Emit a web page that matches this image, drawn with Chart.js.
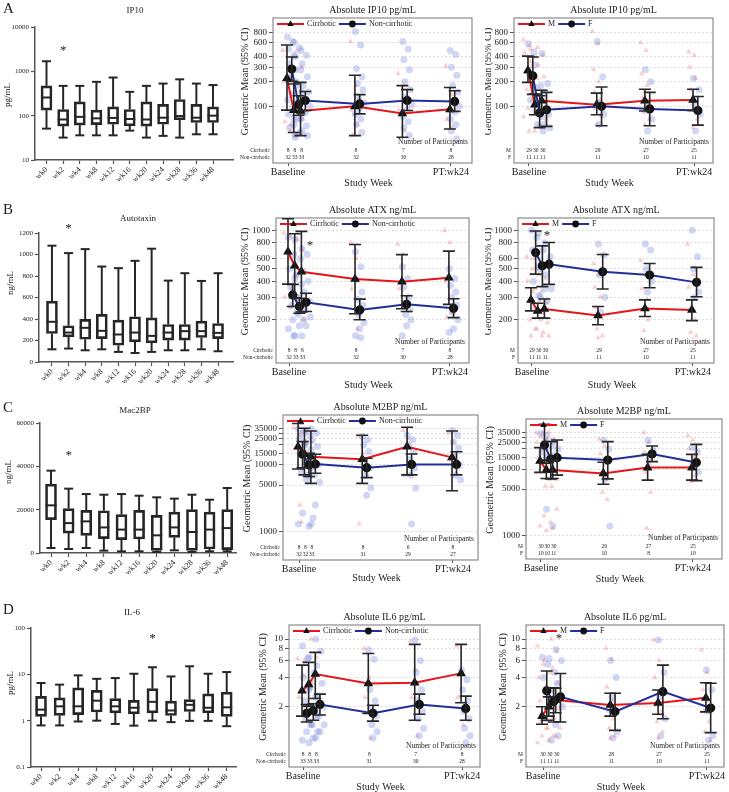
<!DOCTYPE html>
<html>
<head>
<meta charset="utf-8">
<title>Biomarkers by study week</title>
<script src="https://cdn.jsdelivr.net/npm/chart.js@4.4.1/dist/chart.umd.min.js"></script>
<style>
  html, body { margin: 0; padding: 0; background: #fff; }
  body { position: relative; width: 729px; height: 792px; overflow: hidden; }
  canvas { position: absolute; }
</style>
</head>
<body>
<canvas id="boxA"></canvas><canvas id="midA"></canvas><canvas id="rightA"></canvas>
<canvas id="boxB"></canvas><canvas id="midB"></canvas><canvas id="rightB"></canvas>
<canvas id="boxC"></canvas><canvas id="midC"></canvas><canvas id="rightC"></canvas>
<canvas id="boxD"></canvas><canvas id="midD"></canvas><canvas id="rightD"></canvas>
<script>
// ---- box plot data (all participants, by week) ----
const boxWeeks = ["wk0", "wk2", "wk4", "wk8", "wk12", "wk16", "wk20", "wk24", "wk28", "wk36", "wk48"];

const ip10Min = [51, 32, 36, 36, 36, 46, 32, 35, 32, 38, 38];
const ip10Q1 = [133, 58, 61, 63, 64, 59, 58, 64, 81, 70, 70];
const ip10Med = [257, 82, 94, 87, 89, 84, 82, 90, 98, 90, 100];
const ip10Q3 = [470, 138, 204, 133, 158, 138, 204, 180, 232, 180, 158];
const ip10Max = [1690, 470, 470, 580, 725, 345, 470, 530, 660, 530, 490];

const atxMin = [118, 125, 109, 118, 94, 84, 94, 109, 109, 118, 100];
const atxQ1 = [265, 234, 212, 218, 156, 187, 178, 203, 203, 228, 218];
const atxMed = [374, 274, 318, 290, 256, 274, 243, 274, 287, 287, 271];
const atxQ3 = [567, 337, 396, 443, 390, 421, 411, 349, 349, 380, 358];
const atxMax = [1082, 1013, 1050, 888, 873, 941, 1054, 757, 826, 754, 826];

const m2bpMin = [2300, 1850, 2300, 1080, 770, 770, 460, 1230, 460, 770, 770];
const m2bpQ1 = [15400, 9200, 8150, 6600, 6150, 6460, 1230, 7230, 1230, 1850, 1540];
const m2bpMed = [22000, 13800, 14600, 11800, 10800, 10800, 8150, 11800, 9700, 10800, 11500];
const m2bpQ3 = [31800, 20500, 19700, 19500, 17700, 19700, 17400, 18900, 20000, 18900, 20000];
const m2bpMax = [38000, 29700, 27200, 26900, 27200, 26450, 25700, 25100, 26900, 24600, 30000];

const il6Min = [0.79, 0.79, 0.96, 1.0, 0.85, 0.78, 1.0, 0.93, 0.99, 0.99, 0.76];
const il6Q1 = [1.24, 1.3, 1.35, 1.54, 1.47, 1.4, 1.47, 1.29, 1.58, 1.47, 1.24];
const il6Med = [1.73, 2.04, 2.04, 2.7, 2.04, 1.9, 2.55, 1.66, 2.2, 1.9, 1.94];
const il6Q3 = [3.35, 3.1, 5.1, 4.5, 3.0, 2.75, 4.9, 2.65, 2.85, 3.8, 4.1];
const il6Max = [6.5, 6.0, 9.5, 8.0, 8.3, 10.3, 14.2, 9.0, 14.9, 10.3, 11.2];

// ---- geometric mean plots: visits ----
const visitWeeks = [0, 2, 4, 20, 34, 48];
const visitTickWeeks = [0, 48];
const visitTickLabels = ["Baseline", "PT:wk24"];

// IP10: cirrhotic / non-cirrhotic
const ip10CirMean = [220, 90, 88, 100, 82, 92];
const ip10CirLo = [90, 48, 44, 44, 42, 53];
const ip10CirHi = [560, 187, 196, 240, 179, 170];
const ip10NonMean = [285, 105, 118, 107, 118, 115];
const ip10NonLo = [202, 78, 89, 81, 89, 87];
const ip10NonHi = [400, 135, 152, 139, 160, 155];
const ip10CirN = [8, 8, 8, 8, 7, 8];
const ip10NonN = [32, 33, 33, 32, 30, 28];
const ip10CirDots = [[480, 300, 200, 150, 65, 50], [220, 90, 60, 45], [470, 300, 120, 70, 45], [620, 180, 90, 60, 45], [250, 180, 90, 50], [310, 140, 70, 55]];
const ip10NonDots = [
  [700, 620, 500, 420, 330, 280, 230, 180, 140, 120, 100, 80, 70, 55, 45],
  [600, 520, 400, 280, 200, 150, 110, 85, 70, 60, 48, 42],
  [480, 420, 330, 230, 180, 150, 120, 100, 85, 70, 58, 50, 44],
  [820, 560, 290, 230, 190, 160, 130, 110, 95, 80, 70, 60, 48],
  [620, 500, 370, 280, 200, 160, 130, 105, 90, 75, 65, 55, 44],
  [480, 430, 300, 240, 180, 150, 120, 100, 85, 70, 60, 50, 40],
];
// IP10: male / female
const ip10MMean = [275, 105, 117, 105, 117, 120];
const ip10MLo = [196, 79, 88, 79, 88, 89];
const ip10MHi = [410, 141, 157, 145, 162, 162];
const ip10FMean = [236, 83, 91, 100, 93, 89];
const ip10FLo = [140, 55, 57, 58, 58, 59];
const ip10FHi = [400, 135, 148, 172, 148, 132];
const ip10MN = [29, 30, 30, 29, 27, 25];
const ip10FN = [11, 11, 11, 11, 10, 11];
const ip10MDots = [
  [650, 550, 450, 350, 260, 200, 160, 120, 95, 75, 50],
  [500, 400, 300, 220, 150, 110, 80, 60, 50],
  [520, 420, 320, 230, 160, 120, 90, 70, 55],
  [820, 580, 280, 200, 150, 120, 95, 75, 60],
  [600, 480, 250, 180, 130, 105, 85, 70, 60],
  [460, 420, 300, 220, 160, 120, 90, 70, 55],
];
const ip10FDots = [[580, 460, 250, 170, 120, 90], [320, 180, 110, 75, 60, 50], [440, 190, 150, 80, 60, 55], [620, 230, 110, 80, 60], [280, 200, 90, 70, 50], [220, 160, 110, 80, 50]];

// Autotaxin
const atxCirMean = [679, 528, 475, 416, 397, 426];
const atxCirLo = [380, 297, 230, 223, 244, 264];
const atxCirHi = [1230, 940, 980, 775, 646, 687];
const atxNonMean = [313, 254, 274, 239, 264, 246];
const atxNonLo = [254, 225, 232, 200, 232, 208];
const atxNonHi = [378, 295, 322, 290, 308, 292];
const atxCirN = [8, 8, 8, 8, 7, 8];
const atxNonN = [32, 33, 33, 32, 30, 28];
const atxCirDots = [[950, 600, 300, 250], [900, 550, 350, 280], [850, 700, 450, 200], [800, 600, 350, 170], [780, 650, 350, 250], [1000, 800, 400, 230, 210]];
const atxNonDots = [
  [880, 650, 500, 420, 360, 300, 260, 230, 200, 170, 150],
  [850, 600, 450, 380, 300, 260, 220, 200, 180, 150],
  [720, 650, 480, 400, 330, 280, 240, 210, 180, 150],
  [680, 520, 410, 330, 290, 260, 220, 190, 170, 150, 145],
  [520, 420, 360, 300, 270, 240, 220, 200, 180, 150],
  [500, 420, 370, 330, 300, 260, 230, 200, 170, 160],
];
const atxMMean = [286, 235, 243, 216, 245, 239];
const atxMLo = [235, 206, 206, 183, 212, 197];
const atxMHi = [356, 269, 291, 254, 286, 286];
const atxFMean = [670, 528, 544, 474, 447, 392];
const atxFLo = [455, 363, 378, 348, 356, 303];
const atxFHi = [988, 756, 802, 647, 551, 513];
const atxMN = [29, 30, 30, 29, 27, 25];
const atxFN = [11, 11, 11, 11, 10, 11];
const atxMDots = [
  [620, 500, 400, 330, 280, 240, 200, 170, 150],
  [600, 450, 350, 280, 230, 200, 170, 150],
  [560, 420, 330, 270, 230, 190, 160, 150],
  [550, 450, 360, 300, 250, 210, 170, 150, 145],
  [580, 460, 350, 290, 240, 200, 165],
  [780, 450, 360, 290, 240, 200, 160, 150],
];
const atxFDots = [[1000, 880, 700, 520, 400, 310], [950, 700, 500, 350, 300], [800, 620, 450, 350, 280], [780, 640, 450, 300, 230], [780, 700, 500, 400, 330], [1000, 620, 500, 330, 300]];

// Mac2BP
const m2bpCirMean = [18800, 14500, 13300, 12200, 18800, 13000];
const m2bpCirLo = [8700, 7100, 5300, 5300, 7100, 4100];
const m2bpCirHi = [42000, 35500, 32400, 28000, 36800, 32400];
const m2bpNonMean = [14500, 10000, 10350, 9100, 10200, 10200];
const m2bpNonLo = [9100, 6700, 7500, 6450, 7100, 7100];
const m2bpNonHi = [22400, 15000, 14450, 12600, 14600, 15800];
const m2bpCirN = [8, 8, 8, 8, 6, 8];
const m2bpNonN = [32, 32, 33, 31, 29, 27];
const m2bpCirDots = [[36000, 28000, 18000, 2500], [30000, 20000, 1400], [33000, 22000, 15000, 9000], [27000, 15000, 1300], [33000, 25000, 7000], [30000, 22000, 12000]];
const m2bpNonDots = [
  [35000, 30000, 25000, 20000, 15000, 11000, 8000, 6000, 1900, 1300],
  [33000, 28000, 22000, 17000, 13000, 9000, 7000, 1600, 1200],
  [35000, 30000, 24000, 19000, 14000, 10000, 7000, 5500, 2500, 1300],
  [27000, 24000, 20000, 16000, 12000, 9000, 7000, 4500, 3500],
  [28000, 24000, 20000, 16000, 12000, 9000, 7000, 4500, 1300],
  [33000, 28000, 22000, 18000, 14000, 10000, 7000, 6000],
];
const m2bpMMean = [13200, 9700, 9700, 8600, 10500, 10500];
const m2bpMLo = [8900, 7200, 7200, 5900, 6800, 6800];
const m2bpMHi = [20900, 13600, 13600, 12600, 16600, 16600];
const m2bpFMean = [22900, 14100, 14800, 13600, 16800, 12500];
const m2bpFLo = [12200, 7100, 8100, 7100, 12900, 6700];
const m2bpFHi = [46700, 25700, 27200, 25700, 22100, 23400];
const m2bpMN = [30, 30, 30, 29, 27, 25];
const m2bpFN = [10, 10, 11, 10, 8, 10];
const m2bpMDots = [
  [35000, 30000, 25000, 20000, 15000, 12000, 9000, 2000, 1400],
  [34000, 28000, 20000, 14000, 10000, 7000, 5500, 1600, 1200],
  [36000, 28000, 20000, 14000, 10000, 7000, 5500, 2500, 1300],
  [28000, 22000, 17000, 12000, 9000, 7000, 4500, 3500],
  [35000, 25000, 18000, 12000, 9000, 4500, 1300],
  [32000, 27000, 20000, 15000, 11000, 8000, 6500],
];
const m2bpFDots = [[34000, 26000, 18000, 2500], [32000, 22000, 15000, 1400], [26000, 20000, 16000], [27000, 20000, 7000, 1400], [27000, 19000, 14000], [21000, 18000, 12000, 9000]];

// IL-6
const il6CirMean = [2.92, 3.40, 4.35, 3.48, 3.54, 4.42];
const il6CirLo = [1.60, 2.03, 2.43, 1.70, 1.45, 2.20];
const il6CirHi = [5.38, 5.74, 7.28, 7.10, 8.80, 8.80];
const il6NonMean = [1.71, 1.82, 2.11, 1.71, 2.11, 1.92];
const il6NonLo = [1.39, 1.45, 1.64, 1.42, 1.67, 1.45];
const il6NonHi = [2.11, 2.15, 2.70, 2.07, 2.70, 2.57];
const il6CirN = [8, 8, 8, 8, 7, 8];
const il6NonN = [33, 33, 33, 31, 30, 28];
const il6CirDots = [[6.3, 4.2, 2.5, 1.6], [6.0, 3.5, 2.0, 1.3], [10, 6.5, 3.5, 2.0], [8.0, 4.0, 2.5, 0.95], [9.5, 4.8, 2.5, 1.0], [8.5, 4.5, 2.5, 1.3]];
const il6NonDots = [
  [8.5, 6.3, 4.0, 3.0, 2.3, 1.8, 1.5, 1.3, 1.1, 0.9],
  [6.5, 4.5, 3.2, 2.5, 2.0, 1.6, 1.3, 1.1, 0.95, 0.85],
  [10, 7.5, 5.3, 3.5, 2.6, 2.0, 1.6, 1.3, 1.1, 0.95],
  [7.7, 6.2, 3.0, 2.3, 1.9, 1.6, 1.3, 1.1, 0.95],
  [9.8, 6.0, 4.5, 3.0, 2.3, 1.8, 1.5, 1.2, 1.0],
  [4.8, 3.8, 3.0, 2.3, 1.8, 1.5, 1.2, 1.0, 0.85],
];
const il6MMean = [1.60, 2.00, 2.35, 2.08, 2.19, 2.47];
const il6MLo = [1.32, 1.60, 1.73, 1.60, 1.67, 1.77];
const il6MHi = [2.00, 2.53, 3.10, 2.75, 2.98, 3.54];
const il6FMean = [2.92, 2.25, 2.53, 1.78, 2.86, 1.94];
const il6FLo = [1.45, 1.39, 1.39, 1.14, 1.50, 1.08];
const il6FHi = [4.67, 3.13, 4.40, 2.75, 5.38, 3.49];
const il6MN = [30, 30, 30, 28, 27, 25];
const il6FN = [11, 11, 11, 11, 10, 11];
const il6MDots = [
  [8.5, 5.5, 4.0, 3.0, 2.3, 1.8, 1.4, 1.2, 1.0, 0.85],
  [6.0, 4.5, 3.2, 2.4, 1.9, 1.5, 1.2, 1.0, 0.9],
  [10, 7.5, 5.0, 3.5, 2.5, 1.9, 1.5, 1.2, 1.0],
  [8.0, 6.2, 3.2, 2.3, 1.8, 1.5, 1.2, 1.0, 0.95],
  [9.8, 6.0, 4.0, 2.8, 2.2, 1.8, 1.4, 1.1, 0.95],
  [7.7, 4.5, 3.0, 2.3, 1.8, 1.4, 1.1, 0.9],
];
const il6FDots = [[6.5, 5.5, 4.0, 2.3, 1.5], [6.3, 4.5, 3.0, 1.3, 0.9], [7.8, 6.0, 3.5, 2.0, 1.0], [6.0, 4.0, 2.5, 1.1, 0.95], [9.8, 4.5, 2.5, 1.5, 1.0], [4.8, 3.0, 1.8, 1.0, 0.9]];

// ---- styling ----
const SERIF = "'Liberation Serif', 'DejaVu Serif', serif";
const INK = "#222";
const AXIS = "#555";
const RED = "#e3161c";
const BLUE = "#232e98";
const DOT_RED = "rgba(236, 100, 100, 0.30)";
const DOT_BLUE = "rgba(100, 118, 214, 0.30)";

Chart.defaults.font.family = SERIF;
Chart.defaults.color = INK;

// place a canvas; the y axis takes all the room left of the frame and the
// x axis all the room below it, so the frame lands exactly on `area`
function setup(id, box, area) {
  const c = document.getElementById(id);
  c.width = box[2];
  c.height = box[3];
  c.style.left = box[0] + "px";
  c.style.top = box[1] + "px";
  const padding = { left: 0, top: area[1] - box[1], right: box[0] + box[2] - area[2], bottom: 0 };
  const yWidth = area[0] - box[0];
  const xHeight = box[1] + box[3] - area[3];
  const fit = (s) => {
    if (s.isHorizontal()) s.height = xHeight;
    else s.width = yWidth;
    s.paddingLeft = s.paddingRight = s.paddingTop = s.paddingBottom = 0;
  };
  return { canvas: c, padding, fit };
}

function fixedTicks(values) {
  return (s) => {
    s.ticks = values.map((v) => ({ value: v }));
  };
}

function text(ctx, s, x, y, size, align, rotate) {
  ctx.save();
  ctx.font = `${size}px ${SERIF}`;
  ctx.fillStyle = INK;
  ctx.textAlign = align || "center";
  ctx.textBaseline = "middle";
  ctx.translate(x, y);
  if (rotate) ctx.rotate(rotate);
  ctx.fillText(s, 0, 0);
  ctx.restore();
}

function marker(ctx, style, x, y, r) {
  ctx.save();
  ctx.fillStyle = "#111";
  ctx.beginPath();
  if (style === "triangle") {
    ctx.moveTo(x, y - r * 1.1);
    ctx.lineTo(x + r * 0.95, y + r * 0.6);
    ctx.lineTo(x - r * 0.95, y + r * 0.6);
    ctx.closePath();
  } else {
    ctx.arc(x, y, r, 0, Math.PI * 2);
  }
  ctx.fill();
  ctx.restore();
}

// ---- box plot ----
function boxChart(id, box, area, o) {
  const { canvas, padding, fit } = setup(id, box, area);
  const local = (p) => [p[0] - box[0], p[1] - box[1]];

  const whiskers = {
    id: "whiskers",
    afterDatasetsDraw(chart) {
      const { ctx, scales: { x, y } } = chart;
      const seg = (x1, y1, x2, y2) => {
        ctx.beginPath();
        ctx.moveTo(x1, y1);
        ctx.lineTo(x2, y2);
        ctx.stroke();
      };
      ctx.save();
      ctx.strokeStyle = "#262626";
      ctx.lineWidth = 2;
      boxWeeks.forEach((w, i) => {
        const px = x.getPixelForValue(i);
        const yMed = y.getPixelForValue(o.med[i]);
        const yQ1 = y.getPixelForValue(o.q1[i]);
        const yQ3 = y.getPixelForValue(o.q3[i]);
        const yMin = y.getPixelForValue(o.min[i]);
        const yMax = y.getPixelForValue(o.max[i]);
        seg(px - 5.5, yMed, px + 5.5, yMed);
        seg(px, yQ3, px, yMax);
        seg(px - 4.5, yMax, px + 4.5, yMax);
        seg(px, yQ1, px, yMin);
        seg(px - 4.5, yMin, px + 4.5, yMin);
      });
      ctx.restore();

      // title, panel letter, axis title, asterisk
      text(ctx, o.title, ...local(o.titleAt), 9);
      text(ctx, o.letter, ...local(o.letterAt), 15, "left");
      text(ctx, o.yTitle, ...local(o.yTitleAt), 9, "center", -Math.PI / 2);
      text(ctx, "*", x.getPixelForValue(o.star[0]), y.getPixelForValue(o.star[1]), 13);
    },
  };

  new Chart(canvas, {
    type: "bar",
    data: {
      datasets: [
        {
          data: boxWeeks.map((w, i) => ({ x: i, y: [o.q1[i], o.q3[i]] })),
          backgroundColor: "rgba(0,0,0,0)",
          borderColor: "#262626",
          borderWidth: 2,
          borderSkipped: false,
          barThickness: 11,
        },
      ],
    },
    options: {
      responsive: false,
      animation: false,
      events: [],
      layout: { padding, autoPadding: false },
      plugins: { legend: { display: false }, tooltip: { enabled: false } },
      scales: {
        x: {
          type: "linear",
          offset: false,
          min: o.xMin,
          max: o.xMax,
          afterFit: fit,
          afterBuildTicks: fixedTicks(boxWeeks.map((w, i) => i)),
          ticks: {
            callback: (v) => boxWeeks[v],
            minRotation: 45,
            maxRotation: 45,
            autoSkip: false,
            font: { size: 8 },
            color: INK,
            padding: 1,
          },
          grid: { drawOnChartArea: false, offset: false, tickLength: 4, tickColor: AXIS, tickWidth: 1.2 },
          border: { color: AXIS, width: 1.5 },
        },
        y: {
          type: o.log ? "logarithmic" : "linear",
          min: o.yMin,
          max: o.yMax,
          afterFit: fit,
          afterBuildTicks: fixedTicks(o.yTicks),
          ticks: { callback: (v) => String(v), font: { size: 7 }, color: INK, padding: 2, autoSkip: false },
          grid: { drawOnChartArea: false, tickLength: 4, tickColor: AXIS, tickWidth: 1.2 },
          border: { color: AXIS, width: 1.5 },
        },
      },
    },
    plugins: [whiskers],
  });
}

// ---- geometric mean with 95% CI ----
const jitter = (i) => (((i * 5) % 9) - 4) * 0.32;

function lineChart(id, box, area, o) {
  const { canvas, padding, fit } = setup(id, box, area);
  const groups = [
    { g: o.g1, off: -0.3 },
    { g: o.g2, off: 1.1 },
  ];

  const dotData = (dots, off) =>
    dots.flatMap((vals, k) => vals.map((v, i) => ({ x: visitWeeks[k] + off + jitter(i), y: v })));
  const meanData = (g, off) => visitWeeks.map((w, i) => ({ x: w + off, y: g.mean[i] }));

  const decor = {
    id: "decor",
    beforeDatasetsDraw(chart) {
      const { ctx, chartArea: a } = chart;
      ctx.save();
      ctx.strokeStyle = "#8c8c8c";
      ctx.lineWidth = 1.2;
      ctx.strokeRect(a.left, a.top, a.right - a.left, a.bottom - a.top);
      ctx.restore();
    },
    afterDatasetsDraw(chart) {
      const { ctx, chartArea: a, scales: { x, y } } = chart;

      // error bars
      ctx.save();
      ctx.strokeStyle = "#262626";
      ctx.lineWidth = 1.6;
      groups.forEach(({ g, off }) => {
        visitWeeks.forEach((w, i) => {
          const px = x.getPixelForValue(w + off);
          const top = y.getPixelForValue(g.hi[i]);
          const bot = y.getPixelForValue(g.lo[i]);
          ctx.beginPath();
          ctx.moveTo(px, top);
          ctx.lineTo(px, bot);
          ctx.moveTo(px - 6, top);
          ctx.lineTo(px + 6, top);
          ctx.moveTo(px - 6, bot);
          ctx.lineTo(px + 6, bot);
          ctx.stroke();
        });
      });
      ctx.restore();

      // legend inside the frame
      let lx = a.left + 4;
      const ly = a.top + 6;
      ctx.save();
      ctx.font = `8px ${SERIF}`;
      [o.g1, o.g2].forEach((g) => {
        ctx.strokeStyle = g.color;
        ctx.lineWidth = 2;
        ctx.beginPath();
        ctx.moveTo(lx, ly);
        ctx.lineTo(lx + 27, ly);
        ctx.stroke();
        marker(ctx, g.marker, lx + 13.5, ly, 3.4);
        ctx.fillStyle = INK;
        ctx.textAlign = "left";
        ctx.textBaseline = "middle";
        ctx.fillText(g.name, lx + 30, ly);
        lx += 30 + ctx.measureText(g.name).width + 3;
      });
      ctx.restore();

      // number of participants table
      text(ctx, "Number of Participants", a.right - 4, a.bottom - 21, 7.5, "right");
      [o.g1, o.g2].forEach((g, r) => {
        const ry = a.bottom - (r === 0 ? 12 : 5);
        text(ctx, g.name, a.left - 3, ry, 5.5, "right");
        visitWeeks.forEach((w, i) => text(ctx, String(g.n[i]), x.getPixelForValue(w), ry, 5.5));
      });

      // titles
      const cx = (a.left + a.right) / 2;
      text(ctx, o.title, cx, a.top - 8, 10);
      text(ctx, "Geometric Mean (95% CI)", a.left - o.yTitleDx, (a.top + a.bottom) / 2 - 9, 10, "center", -Math.PI / 2);
      text(ctx, "Study Week", cx - 4, a.bottom + o.xTitleDy, 10);
      if (o.star) text(ctx, "*", x.getPixelForValue(o.star[0]), y.getPixelForValue(o.star[1]), 13);
    },
  };

  new Chart(canvas, {
    type: "scatter",
    data: {
      datasets: [
        {
          data: dotData(o.g1.dots, groups[0].off),
          pointStyle: o.g1.marker,
          pointRadius: 3.2,
          backgroundColor: o.g1.dot,
          borderWidth: 0,
          order: 6,
        },
        {
          data: dotData(o.g2.dots, groups[1].off),
          pointStyle: o.g2.marker,
          pointRadius: 3.5,
          backgroundColor: o.g2.dot,
          borderWidth: 0,
          order: 5,
        },
        {
          data: meanData(o.g1, groups[0].off),
          showLine: true,
          borderColor: o.g1.color,
          borderWidth: 2,
          pointStyle: o.g1.marker,
          pointRadius: 3.6,
          pointBackgroundColor: "#111",
          pointBorderColor: "#111",
          order: 2,
        },
        {
          data: meanData(o.g2, groups[1].off),
          showLine: true,
          borderColor: o.g2.color,
          borderWidth: 2,
          pointStyle: o.g2.marker,
          pointRadius: 3.6,
          pointBackgroundColor: "#111",
          pointBorderColor: "#111",
          order: 1,
        },
      ],
    },
    options: {
      responsive: false,
      animation: false,
      events: [],
      layout: { padding, autoPadding: false },
      plugins: { legend: { display: false }, tooltip: { enabled: false } },
      scales: {
        x: {
          type: "linear",
          min: o.xMin,
          max: o.xMax,
          afterFit: fit,
          afterBuildTicks: fixedTicks(visitTickWeeks),
          ticks: {
            callback: (v) => visitTickLabels[visitTickWeeks.indexOf(v)],
            maxRotation: 0,
            autoSkip: false,
            font: { size: 10 },
            color: INK,
            padding: 0,
          },
          grid: { drawOnChartArea: false, tickLength: 3, tickColor: AXIS },
          border: { display: false },
        },
        y: {
          type: "logarithmic",
          min: o.yMin,
          max: o.yMax,
          afterFit: fit,
          afterBuildTicks: fixedTicks(o.yTicks),
          ticks: {
            callback: (v) => (o.yBlank && o.yBlank.includes(v) ? "" : String(v)),
            font: { size: 9 },
            color: INK,
            padding: 2,
            autoSkip: false,
          },
          grid: { color: "#dedede", tickLength: 4, tickColor: AXIS },
          border: { display: false, dash: [2, 2] },
        },
      },
    },
    plugins: [decor],
  });
}

function grp(name, marker, color, dot, mean, lo, hi, n, dots) {
  return { name, marker, color, dot, mean, lo, hi, n, dots };
}

const ip10Ticks = [100, 200, 300, 400, 600, 800];
const atxTicks = [200, 300, 400, 500, 600, 800, 1000];
const m2bpTicks = [1000, 5000, 10000, 15000, 20000, 25000, 30000, 35000];
const il6Ticks = [2, 4, 6, 8, 10];

// ---- row A: IP10 ----
boxChart("boxA", [0, 0, 240, 195], [35, 27, 233, 160], {
  min: ip10Min, q1: ip10Q1, med: ip10Med, q3: ip10Q3, max: ip10Max,
  log: true, yMin: 10, yMax: 10000, yTicks: [10, 100, 1000, 10000],
  xMin: -0.69, xMax: 11.2,
  title: "IP10", titleAt: [135, 11], letter: "A", letterAt: [3, 9],
  yTitle: "pg/mL", yTitleAt: [8, 95], star: [1, 3000],
});
lineChart("midA", [240, 0, 245, 195], [273, 18, 472, 163], {
  title: "Absolute IP10 pg/mL", yTitleDx: 28, xTitleDy: 20,
  xMin: -4.42, xMax: 54.2, yMin: 20.4, yMax: 1195, yTicks: ip10Ticks,
  g1: grp("Cirrhotic", "triangle", RED, DOT_RED, ip10CirMean, ip10CirLo, ip10CirHi, ip10CirN, ip10CirDots),
  g2: grp("Non-cirrhotic", "circle", BLUE, DOT_BLUE, ip10NonMean, ip10NonLo, ip10NonHi, ip10NonN, ip10NonDots),
});
lineChart("rightA", [485, 0, 244, 195], [514, 18, 713, 163], {
  title: "Absolute IP10 pg/mL", yTitleDx: 26, xTitleDy: 20,
  xMin: -4.36, xMax: 53.5, yMin: 20.4, yMax: 1195, yTicks: ip10Ticks,
  g1: grp("M", "triangle", RED, DOT_RED, ip10MMean, ip10MLo, ip10MHi, ip10MN, ip10MDots),
  g2: grp("F", "circle", BLUE, DOT_BLUE, ip10FMean, ip10FLo, ip10FHi, ip10FN, ip10FDots),
});

// ---- row B: Autotaxin ----
boxChart("boxB", [0, 195, 240, 200], [39, 233, 233, 362], {
  min: atxMin, q1: atxQ1, med: atxMed, q3: atxQ3, max: atxMax,
  log: false, yMin: 0, yMax: 1200, yTicks: [0, 200, 400, 600, 800, 1000, 1200],
  xMin: -0.78, xMax: 10.9,
  title: "Autotaxin", titleAt: [138, 219], letter: "B", letterAt: [3, 210],
  yTitle: "ng/mL", yTitleAt: [11, 283], star: [1, 1245],
});
lineChart("midB", [240, 195, 245, 200], [276, 218, 469, 363], {
  title: "Absolute ATX ng/mL", yTitleDx: 31, xTitleDy: 22,
  xMin: -3.88, xMax: 53.7, yMin: 92, yMax: 1247, yTicks: atxTicks, star: [6.3, 760],
  g1: grp("Cirrhotic", "triangle", RED, DOT_RED, atxCirMean, atxCirLo, atxCirHi, atxCirN, atxCirDots),
  g2: grp("Non-cirrhotic", "circle", BLUE, DOT_BLUE, atxNonMean, atxNonLo, atxNonHi, atxNonN, atxNonDots),
});
lineChart("rightB", [485, 195, 244, 200], [518, 218, 714, 363], {
  title: "Absolute ATX ng/mL", yTitleDx: 30, xTitleDy: 22,
  xMin: -4.17, xMax: 54.3, yMin: 92, yMax: 1247, yTicks: atxTicks, star: [4.5, 915],
  g1: grp("M", "triangle", RED, DOT_RED, atxMMean, atxMLo, atxMHi, atxMN, atxMDots),
  g2: grp("F", "circle", BLUE, DOT_BLUE, atxFMean, atxFLo, atxFHi, atxFN, atxFDots),
});

// ---- row C: Mac2BP ----
boxChart("boxC", [0, 395, 240, 195], [40, 423, 236, 553], {
  min: m2bpMin, q1: m2bpQ1, med: m2bpMed, q3: m2bpQ3, max: m2bpMax,
  log: false, yMin: 0, yMax: 60000, yTicks: [0, 20000, 40000, 60000],
  xMin: -0.625, xMax: 10.5,
  title: "Mac2BP", titleAt: [135, 411], letter: "C", letterAt: [3, 408],
  yTitle: "ng/mL", yTitleAt: [9, 472], star: [1, 45000],
});
lineChart("midC", [240, 395, 245, 195], [283, 415, 478, 560], {
  title: "Absolute M2BP ng/mL", yTitleDx: 36, xTitleDy: 18,
  xMin: -4.99, xMax: 55.8, yMin: 375, yMax: 56234, yTicks: m2bpTicks, yBlank: [20000, 30000],
  g1: grp("Cirrhotic", "triangle", RED, DOT_RED, m2bpCirMean, m2bpCirLo, m2bpCirHi, m2bpCirN, m2bpCirDots),
  g2: grp("Non-cirrhotic", "circle", BLUE, DOT_BLUE, m2bpNonMean, m2bpNonLo, m2bpNonHi, m2bpNonN, m2bpNonDots),
});
lineChart("rightC", [485, 395, 244, 195], [526, 419, 722, 559], {
  title: "Absolute M2BP ng/mL", yTitleDx: 36, xTitleDy: 20,
  xMin: -4.74, xMax: 57.2, yMin: 447, yMax: 56234, yTicks: m2bpTicks, yBlank: [20000, 30000],
  g1: grp("M", "triangle", RED, DOT_RED, m2bpMMean, m2bpMLo, m2bpMHi, m2bpMN, m2bpMDots),
  g2: grp("F", "circle", BLUE, DOT_BLUE, m2bpFMean, m2bpFLo, m2bpFHi, m2bpFN, m2bpFDots),
});

// ---- row D: IL-6 ----
boxChart("boxD", [0, 590, 240, 202], [31, 628, 236, 767], {
  min: il6Min, q1: il6Q1, med: il6Med, q3: il6Q3, max: il6Max,
  log: true, yMin: 0.1, yMax: 100, yTicks: [0.1, 1, 10, 100],
  xMin: -0.54, xMax: 10.5,
  title: "IL-6", titleAt: [132, 613], letter: "D", letterAt: [3, 610],
  yTitle: "pg/mL", yTitleAt: [11, 683], star: [6, 58],
});
lineChart("midD", [240, 590, 245, 202], [289, 625, 480, 767], {
  title: "Absolute IL6 pg/mL", yTitleDx: 26, xTitleDy: 20,
  xMin: -4.23, xMax: 53.4, yMin: 0.477, yMax: 13.96, yTicks: il6Ticks,
  g1: grp("Cirrhotic", "triangle", RED, DOT_RED, il6CirMean, il6CirLo, il6CirHi, il6CirN, il6CirDots),
  g2: grp("Non-cirrhotic", "circle", BLUE, DOT_BLUE, il6NonMean, il6NonLo, il6NonHi, il6NonN, il6NonDots),
});
lineChart("rightD", [485, 590, 244, 202], [526, 625, 724, 767], {
  title: "Absolute IL6 pg/mL", yTitleDx: 23, xTitleDy: 20,
  xMin: -4.98, xMax: 53.0, yMin: 0.477, yMax: 13.96, yTicks: il6Ticks, star: [4.7, 10],
  g1: grp("M", "triangle", RED, DOT_RED, il6MMean, il6MLo, il6MHi, il6MN, il6MDots),
  g2: grp("F", "circle", BLUE, DOT_BLUE, il6FMean, il6FLo, il6FHi, il6FN, il6FDots),
});
</script>
</body>
</html>
